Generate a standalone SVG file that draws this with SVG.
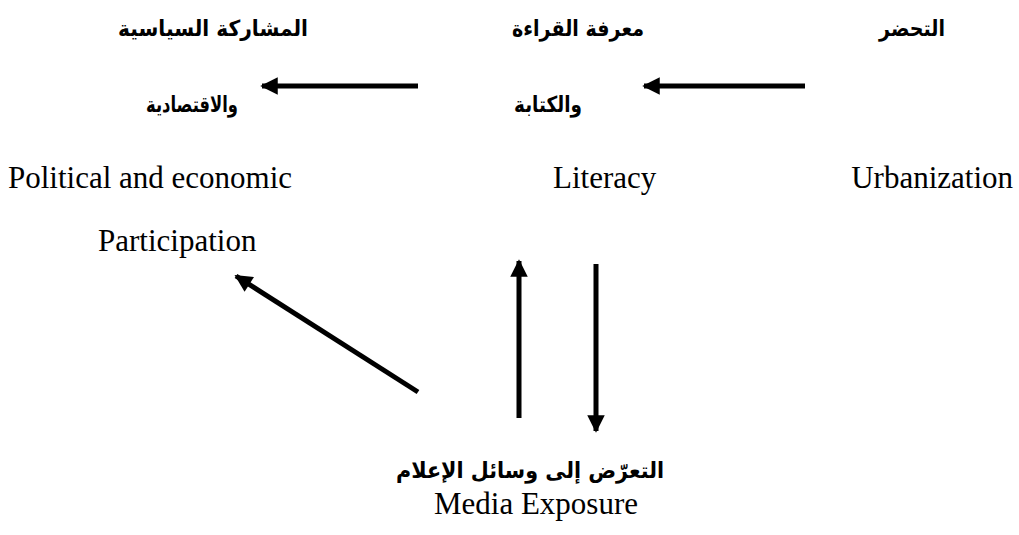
<svg xmlns="http://www.w3.org/2000/svg" width="1019" height="535" viewBox="0 0 1019 535">
<style>
.ar{font-family:"DejaVu Sans","Noto Sans",sans-serif;font-weight:bold;font-size:22px;fill:#000;text-anchor:end}
.en{font-family:"Liberation Serif","Times New Roman",serif;font-size:31px;fill:#000}
.conn line{stroke:#000;stroke-width:5}
</style>
<defs>
<marker id="ah" viewBox="0 0 10 10" refX="9" refY="5" markerWidth="4.4" markerHeight="3.5" orient="auto" markerUnits="strokeWidth">
<path d="M0,0 L10,5 L0,10 z" fill="#000"/>
</marker>
</defs>
<rect width="1019" height="535" fill="#fff"/>
<g id="participation">
<text class="ar" x="308" y="36" textLength="190" lengthAdjust="spacingAndGlyphs">المشاركة السياسية</text>
<text class="ar" x="238" y="112" textLength="92" lengthAdjust="spacingAndGlyphs">والاقتصادية</text>
<text class="en" x="8" y="188">Political and economic</text>
<text class="en" x="98" y="251">Participation</text>
</g>
<g id="literacy">
<text class="ar" x="644" y="36" textLength="132" lengthAdjust="spacingAndGlyphs">معرفة القراءة</text>
<text class="ar" x="582" y="112" textLength="68" lengthAdjust="spacingAndGlyphs">والكتابة</text>
<text class="en" x="553" y="188">Literacy</text>
</g>
<g id="urbanization">
<text class="ar" x="945" y="36" textLength="66" lengthAdjust="spacingAndGlyphs">التحضر</text>
<text class="en" x="1013" y="188" text-anchor="end">Urbanization</text>
</g>
<g id="media">
<text class="ar" x="664" y="478" textLength="268" lengthAdjust="spacingAndGlyphs">التعرّض إلى وسائل الإعلام</text>
<text class="en" x="638" y="514" text-anchor="end">Media Exposure</text>
</g>
<g class="conn" id="connectors">
<line x1="418" y1="86" x2="262" y2="86" marker-end="url(#ah)"/>
<line x1="805" y1="86" x2="644" y2="86" marker-end="url(#ah)"/>
<line x1="418" y1="392" x2="236" y2="276" marker-end="url(#ah)"/>
<line x1="519" y1="418" x2="519" y2="261" marker-end="url(#ah)"/>
<line x1="596" y1="264" x2="596" y2="431" marker-end="url(#ah)"/>
</g>
</svg>
